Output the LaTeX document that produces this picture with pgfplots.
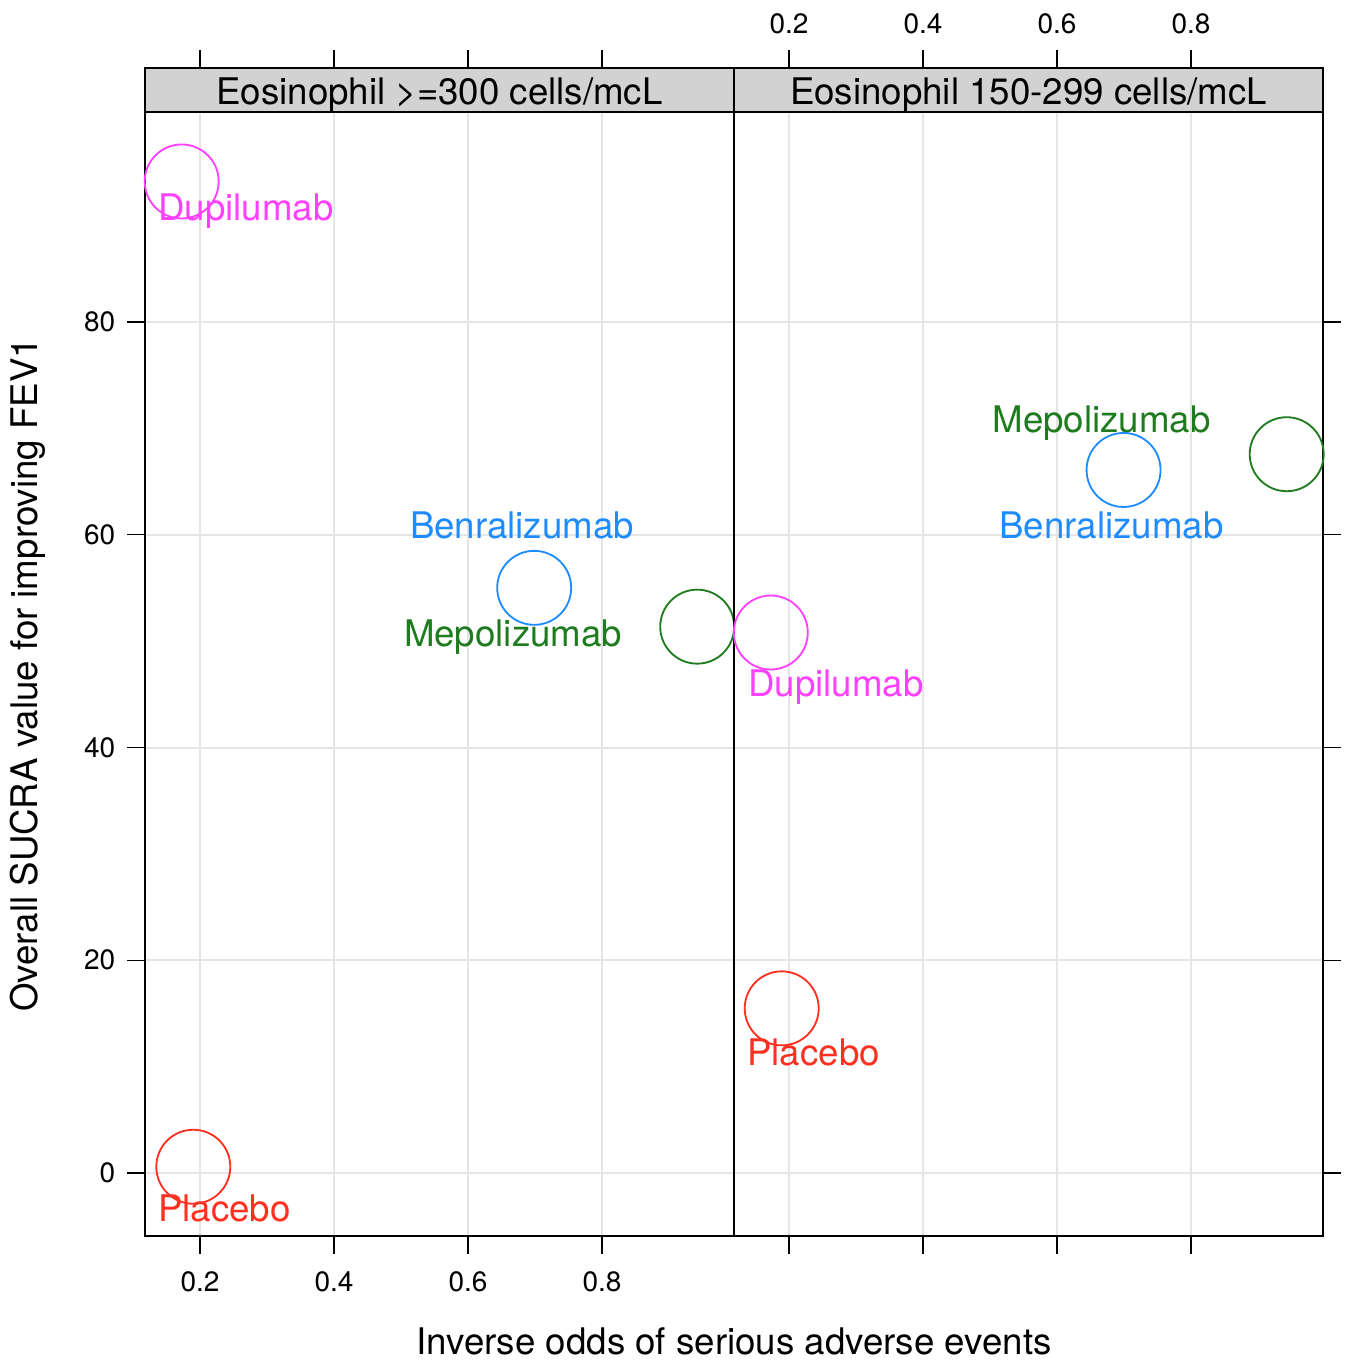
\documentclass[border=0pt]{standalone}
\usepackage{fontspec}
\setmainfont{TeX Gyre Heros}
\usepackage{pgfplots}
\pgfplotsset{compat=1.18}
\definecolor{cmag}{HTML}{FF40FF}
\definecolor{cblue}{HTML}{1E8CFF}
\definecolor{cgreen}{HTML}{1E7B1E}
\definecolor{cred}{HTML}{FF3020}
\tikzset{
  pt/.style={only marks, mark=o, mark size=11.1pt, line width=0.55pt},
  lab/.style={anchor=base, font=\fontsize{11}{13}\selectfont},
}
\pgfplotsset{panel/.style={
  scale only axis, width=176.7pt, height=350.4pt,
  xmin=0.11791, xmax=0.99701, ymin=-5.92, ymax=103.88,
  xtick={0.2,0.4,0.6,0.8}, ytick={0,20,40,60,80},
  grid=major, major grid style={color=black!10, line width=0.6pt},
  tick align=outside, major tick length=5.4pt,
  tick style={black, line width=0.4pt},
  axis line style={line width=0.5pt},
  ticklabel style={font=\fontsize{8.4}{9}\selectfont},
  /pgf/number format/assume math mode=true,
  clip=false,
}}
\begin{document}
\begin{tikzpicture}
% left panel
\begin{axis}[panel, at={(0,0)}, anchor=south west,
  xticklabel pos=left, xtick pos=both, yticklabel pos=left, ytick pos=left,
  xticklabel style={yshift=-1.8pt}]
\addplot[pt, color=cmag] coordinates {(0.1727,93.21)};
\addplot[pt, color=cred] coordinates {(0.1900,0.59)};
\addplot[pt, color=cblue] coordinates {(0.6988,55.01)};
\addplot[pt, color=cgreen] coordinates {(0.9421,51.36)};
\node[lab, text=cmag] at (axis cs:0.2687,89.50) {Dupilumab};
\node[lab, text=cred] at (axis cs:0.2366,-4.58) {Placebo};
\node[lab, text=cblue] at (axis cs:0.6806,59.69) {Benralizumab};
\node[lab, text=cgreen] at (axis cs:0.6672,49.54) {Mepolizumab};
\draw[line width=0.5pt, fill=gray!35] (axis cs:0.11791,99.74) rectangle (axis cs:0.99701,103.88);
\node[lab, text=black] at (axis cs:0.5575,100.49) {Eosinophil >=300 cells/mcL};
\end{axis}
% right panel
\begin{axis}[panel, at={(176.7pt,0)}, anchor=south west,
  xticklabel pos=right, xtick pos=both, ytick pos=right, yticklabels={},
  xticklabel style={yshift=1.2pt}]
\addplot[pt, color=cmag] coordinates {(0.1728,50.81)};
\addplot[pt, color=cred] coordinates {(0.1891,15.48)};
\addplot[pt, color=cblue] coordinates {(0.6993,66.09)};
\addplot[pt, color=cgreen] coordinates {(0.9428,67.57)};
\node[lab, text=cmag] at (axis cs:0.2701,44.84) {Dupilumab};
\node[lab, text=cred] at (axis cs:0.2366,10.15) {Placebo};
\node[lab, text=cblue] at (axis cs:0.6813,59.69) {Benralizumab};
\node[lab, text=cgreen] at (axis cs:0.6664,69.57) {Mepolizumab};
\draw[line width=0.5pt, fill=gray!35] (axis cs:0.11791,99.74) rectangle (axis cs:0.99701,103.88);
\node[lab, text=black] at (axis cs:0.5575,100.49) {Eosinophil 150-299 cells/mcL};
\end{axis}
\node[rotate=90, font=\fontsize{11}{13}\selectfont] at (-35.1pt,168.3pt) {Overall SUCRA value for improving FEV1};
\node[anchor=base, font=\fontsize{11}{13}\selectfont] at (176.7pt,-35.4pt) {Inverse odds of serious adverse events};
\pgfresetboundingbox
\useasboundingbox (-43.5pt,-37.5pt) rectangle (360.6pt,370.8pt);
\end{tikzpicture}
\end{document}
